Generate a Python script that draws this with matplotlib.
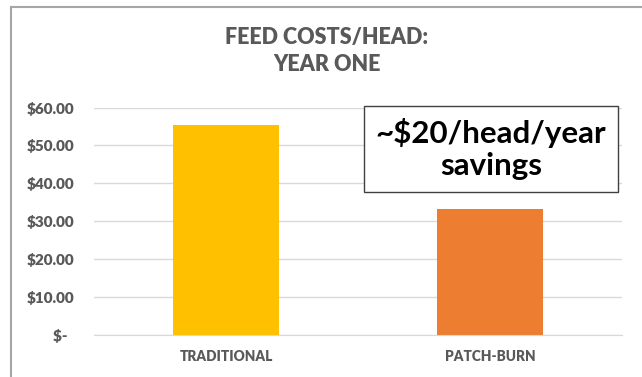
import matplotlib
matplotlib.use("Agg")
import matplotlib.pyplot as plt
from matplotlib.lines import Line2D
from matplotlib import font_manager as fm

categories = ["TRADITIONAL", "PATCH-BURN"]
values = [55.4, 33.2]
colors = ["#FFC000", "#ED7D31"]
yticks = [0, 10, 20, 30, 40, 50, 60]
ytick_labels = ["$-  ", "$10.00", "$20.00", "$30.00", "$40.00", "$50.00", "$60.00"]
title = "FEED COSTS/HEAD:\nYEAR ONE"
callout = "~$20/head/year\nsavings"

W, H = 642, 377
fig = plt.figure(figsize=(W / 100, H / 100), dpi=100)


def lato(weight, size):
    for f in fm.fontManager.ttflist:
        if f.name == "Lato" and f.weight == weight and f.style == "normal":
            return fm.FontProperties(fname=f.fname, size=size)
    return fm.FontProperties(family="DejaVu Sans", weight="bold", size=size)


# chart border (partially out of frame)
fig.add_artist(Line2D([11.5 / W, 11.5 / W], [0, 1 - 6.5 / H], transform=fig.transFigure,
                      color="#A6A6A6", linewidth=1.5))
fig.add_artist(Line2D([11.5 / W, 1], [1 - 6.5 / H, 1 - 6.5 / H], transform=fig.transFigure,
                      color="#A6A6A6", linewidth=1.5))

ax = fig.add_axes([94 / W, (H - 335) / H, (622 - 94) / W, (335 - 107.5) / H])
x = list(range(len(categories)))
ax.bar(x, values, width=0.4, color=colors, zorder=3)
ax.set_xlim(-0.5, 1.5)
ax.set_ylim(0, 60)
ax.set_yticks(yticks)
ax.set_yticklabels(ytick_labels, fontproperties=lato(800, 11), color="#595959")
ax.set_xticks(x)
ax.set_xticklabels(categories, fontproperties=lato(800, 9.8), color="#595959")
ax.tick_params(axis="y", length=0, pad=14)
ax.tick_params(axis="x", length=0, pad=11)
ax.grid(axis="y", color="#D9D9D9", linewidth=1, zorder=0)
for s in ["top", "right", "left"]:
    ax.spines[s].set_visible(False)
ax.spines["bottom"].set_color("#D9D9D9")
ax.spines["bottom"].set_zorder(4)

fig.text(327 / W, 1 - 51 / H, title, ha="center", va="center", fontproperties=lato(800, 15.5),
         color="#595959", linespacing=1.35)

fig.text(491 / W, 1 - 149 / H, callout, ha="center", va="center", fontproperties=lato(700, 22.5),
         color="black", linespacing=1.2,
         bbox=dict(boxstyle="square,pad=0.38", facecolor="white",
                   edgecolor="#404040", linewidth=1))

fig.savefig("out.png", dpi=100)
